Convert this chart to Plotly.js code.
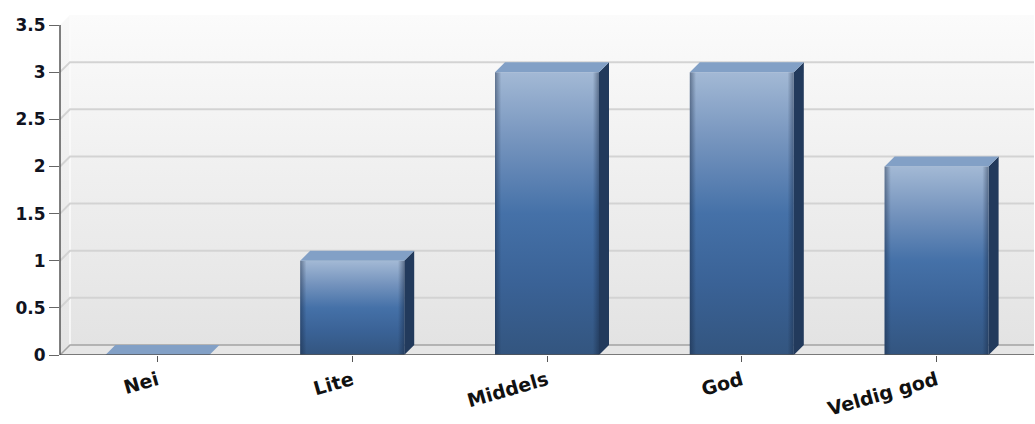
<!DOCTYPE html>
<html>
<head>
<meta charset="utf-8">
<script src="https://cdn.plot.ly/plotly-3.0.1.min.js"></script>
<style>html,body{margin:0;padding:0;background:#fff;}#chart{width:1035px;height:424px;}</style>
</head>
<body>
<div id="chart"></div>
<script>
// ---- data ----
const categories = ['Nei', 'Lite', 'Middels', 'God', 'Veldig god'];
const values = [0, 1, 3, 3, 2];
const yTickVals = [0, 0.5, 1, 1.5, 2, 2.5, 3, 3.5];
const yTickText = ['0', '0.5', '1', '1.5', '2', '2.5', '3', '3.5'];
const gridVals = [0.5, 1, 1.5, 2, 2.5, 3];

// ---- geometry (pixels converted to axis units) ----
const W = 1035, H = 424;
const M = {l: 60, r: 1, t: 15, b: 69};
const plotW = W - M.l - M.r, plotH = H - M.t - M.b;
const yMax = 3.5;
const depthPx = 10;
const ppuY = (plotH - depthPx) / yMax;
const DY = depthPx / ppuY;
const xMin = -0.5, xMax = categories.length - 0.5;
const ppuX = plotW / (xMax - xMin);
const DX = depthPx / ppuX;
const BW = 104 / ppuX;

const traces = [];
function poly(xs, ys, extra) {
  return Object.assign({
    type: 'scatter', mode: 'lines', x: xs.concat([xs[0]]), y: ys.concat([ys[0]]),
    fill: 'toself', line: {width: 0}, hoverinfo: 'skip', showlegend: false
  }, extra);
}
function lineTrace(xs, ys, color, width) {
  return {type: 'scatter', mode: 'lines', x: xs, y: ys, line: {color: color, width: width},
    hoverinfo: 'skip', showlegend: false};
}

// back wall
traces.push(poly([xMin + DX, xMax, xMax, xMin + DX], [DY, DY, yMax + DY, yMax + DY], {
  fillgradient: {type: 'vertical', colorscale: [[0, '#e3e3e3'], [1, '#fbfbfb']]}
}));
// left wall
traces.push(poly([xMin, xMin + DX, xMin + DX, xMin], [0, DY, yMax + DY, yMax], {
  fillgradient: {type: 'vertical', colorscale: [[0, '#e4e4e4'], [1, '#f8f8f8']]}
}));
// floor
traces.push(poly([xMin, xMax, xMax, xMin + DX], [0, 0, DY, DY], {fillcolor: '#e6e6e6'}));
// back-left corner highlight
traces.push(lineTrace([xMin + DX, xMin + DX], [DY, yMax + DY], '#fbfbfb', 1.5));
// floor back edge
traces.push(lineTrace([xMin, xMin + DX, xMax], [0, DY, DY], '#a4a4a4', 1.5));
// grid lines
gridVals.forEach(v => {
  traces.push(lineTrace([xMin, xMin + DX, xMax], [v, v + DY, v + DY], '#d3d3d3', 2));
});
// bars
values.forEach((v, i) => {
  const x0 = i - BW / 2, x1 = i + BW / 2;
  if (v > 0) {
    // side face
    traces.push(poly([x1, x1 + DX, x1 + DX, x1], [0, DY, v + DY, v], {fillcolor: '#223a5c'}));
    // front face
    traces.push(poly([x0, x1, x1, x0], [0, 0, v, v], {
      fillgradient: {type: 'vertical', colorscale: [
        [0, '#33557f'], [0.25, '#3a6296'], [0.5, '#4571a8'], [0.75, '#7493bd'], [1, '#a3b9d5']]}
    }));
    // edge shading
    traces.push(poly([x0, x1, x1, x0], [0, 0, v, v], {
      fillgradient: {type: 'horizontal', colorscale: [
        [0, 'rgba(20,35,60,0.45)'], [0.06, 'rgba(20,35,60,0)'], [0.94, 'rgba(20,35,60,0)'], [1, 'rgba(20,35,60,0.45)']]}
    }));
  }
  // top face
  traces.push(poly([x0, x1, x1 + DX, x0 + DX], [v, v, v + DY, v + DY], {fillcolor: '#82a0c6'}));
});

const layout = {
  width: W, height: H,
  margin: M,
  paper_bgcolor: '#ffffff', plot_bgcolor: '#ffffff',
  showlegend: false,
  xaxis: {
    range: [xMin, xMax], tickvals: categories.map((c, i) => i), ticktext: categories,
    tickangle: -16, ticks: 'outside', ticklen: 6, tickcolor: '#555', tickwidth: 1,
    showgrid: false, zeroline: false, showline: false, fixedrange: true,
    tickfont: {family: 'DejaVu Sans', size: 19, color: '#111', weight: 'bold'}
  },
  yaxis: {
    range: [0, yMax + DY], tickvals: yTickVals, ticktext: yTickText,
    ticks: 'outside', ticklen: 10, tickcolor: '#666', tickwidth: 1,
    showgrid: false, zeroline: false, showline: false, fixedrange: true,
    tickfont: {family: 'DejaVu Sans', size: 17, color: '#10131f', weight: 'bold'}
  },
  shapes: [
    {type: 'line', xref: 'paper', yref: 'y', x0: 0, x1: 0, y0: 0, y1: yMax, line: {color: '#555', width: 1.5}},
    {type: 'line', xref: 'paper', yref: 'y', x0: 0, x1: 1, y0: 0, y1: 0, line: {color: '#555', width: 1.5}}
  ]
};

Plotly.newPlot('chart', traces, layout, {staticPlot: true, displayModeBar: false});
</script>
</body>
</html>
